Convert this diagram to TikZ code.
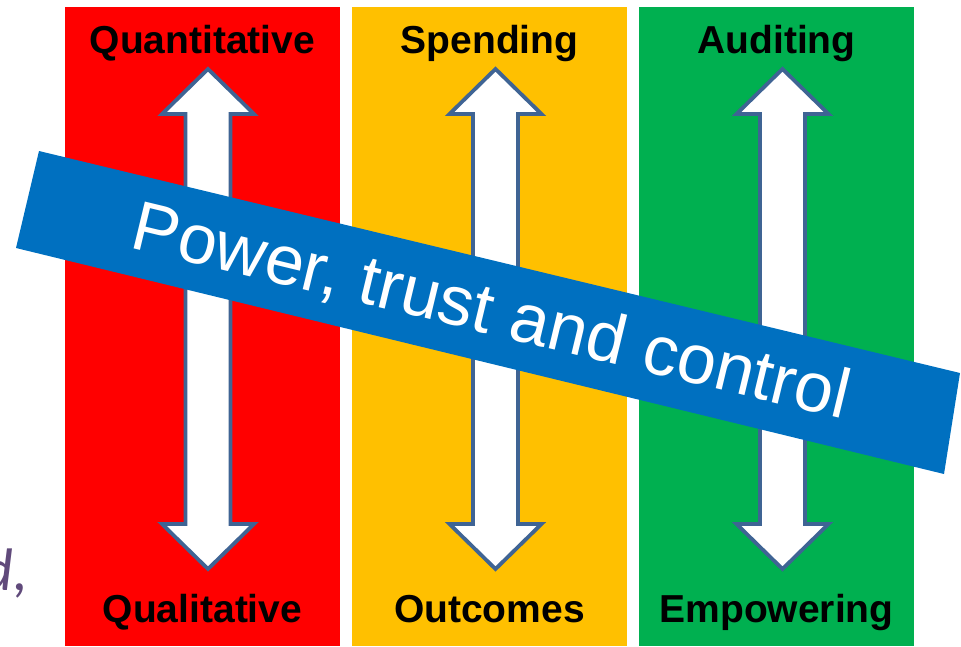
\documentclass[tikz,border=0pt]{standalone}
\usepackage{fontspec}
\setmainfont{Liberation Sans}
\newfontfamily\dfont{Carlito}
\definecolor{colred}{HTML}{FF0000}
\definecolor{colyellow}{HTML}{FFC000}
\definecolor{colgreen}{HTML}{00B050}
\definecolor{banblue}{HTML}{0070C0}
\definecolor{arrowline}{HTML}{3F6494}
\definecolor{dpurple}{HTML}{604A7B}
\tikzset{
  dblarrow/.style={fill=white, draw=arrowline, line width=3.8pt, line join=miter},
  colabel/.style={font=\fontsize{39}{44}\selectfont\bfseries, text=black, inner sep=0pt, anchor=base},
  bannertext/.style={font=\fontsize{70}{80}\selectfont, text=white, inner sep=0pt, rotate=-13.55},
}
\begin{document}
\begin{tikzpicture}[x=1pt,y=-1pt]
\useasboundingbox (0,0) rectangle (961,646);
% columns
\fill[colred]    (65,7)  rectangle (340,646);
\fill[colyellow] (352,7) rectangle (627,646);
\fill[colgreen]  (639,7) rectangle (914,646);
% double arrows
\foreach \cx in {208,495.5,782.5}{
  \draw[dblarrow] (\cx,69) -- (\cx+46,114) -- (\cx+22.5,114) -- (\cx+22.5,524)
    -- (\cx+46,524) -- (\cx,569) -- (\cx-46,524) -- (\cx-22.5,524)
    -- (\cx-22.5,114) -- (\cx-46,114) -- cycle;
}
% labels
\node[colabel] (q1) at (202.5,53) {Quantitative};
\node[colabel] (s1) at (489.5,53) {Spending};
\node[colabel] (a1) at (776.5,53) {Auditing};
\node[colabel] (q2) at (202.5,622) {Qualitative};
\node[colabel] (o2) at (489.5,622) {Outcomes};
\node[colabel] (e2) at (776.5,622) {Empowering};
% banner
\fill[banblue] (39,151) -- (960,373) -- (944,474) -- (16,248) -- cycle;
\node[bannertext] (ban) at (491,313) {Power, trust and control};
% cut-off text at left
\node[font=\dfont\itshape\fontsize{60}{70}\selectfont, text=dpurple, inner sep=0pt, anchor=base east] (dtxt) at (29,590) {d,};
\end{tikzpicture}
\end{document}
